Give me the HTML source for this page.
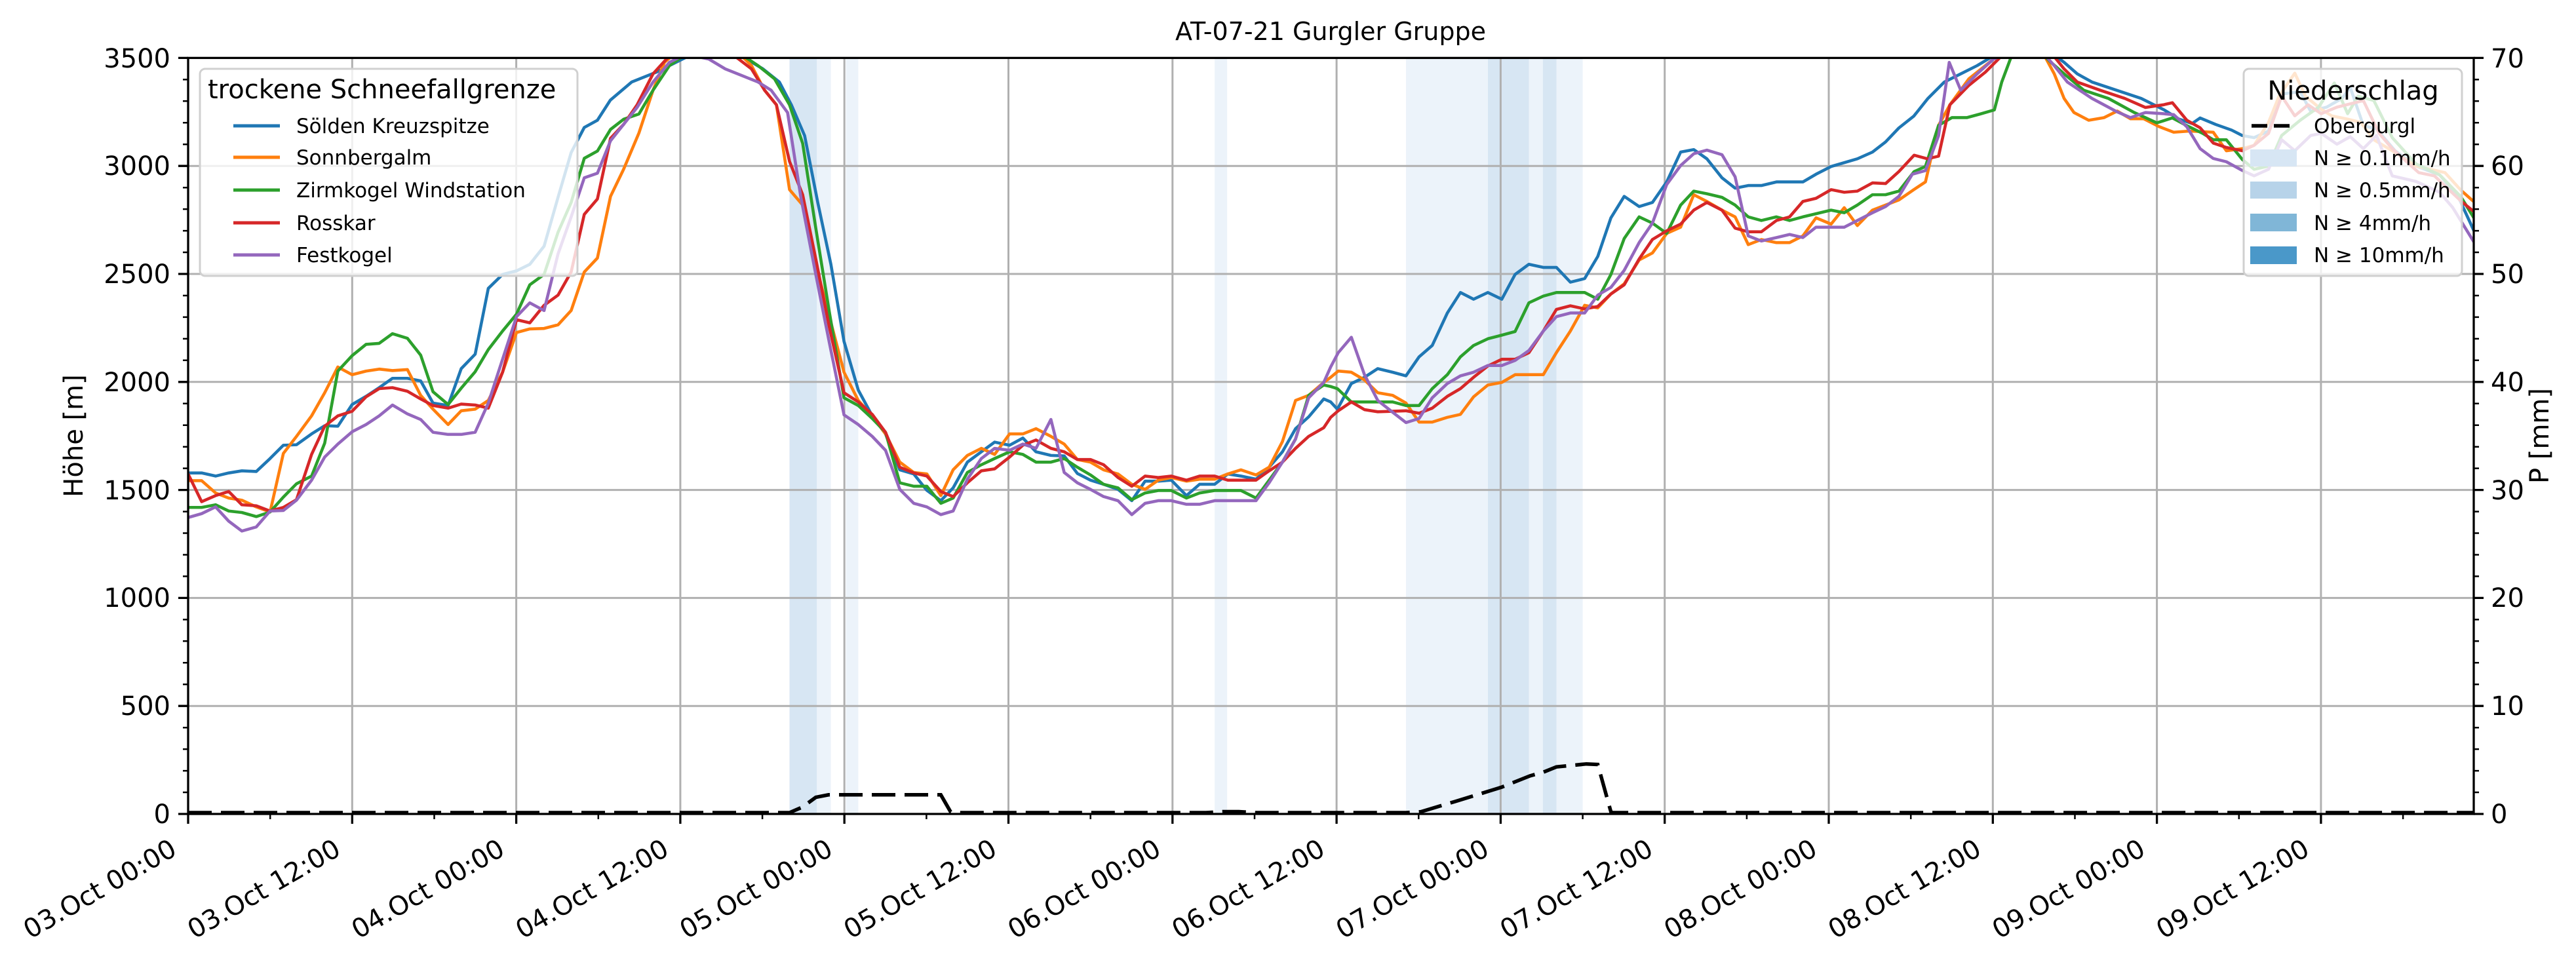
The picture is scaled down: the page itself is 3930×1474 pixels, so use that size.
<!DOCTYPE html>
<html><head><meta charset="utf-8"><style>
html,body{margin:0;padding:0;background:#fff;}
svg{display:block;font-family:"DejaVu Sans","Liberation Sans",sans-serif;}
</style></head><body>
<svg width="3930" height="1474" viewBox="0 0 3930 1474" xmlns="http://www.w3.org/2000/svg">
<defs><clipPath id="c"><rect x="287" y="88.4" width="3487" height="1153.6"/></clipPath></defs>
<rect width="3930" height="1474" fill="#fff"/>
<g>
<rect x="1204.5" y="88.4" width="41.8" height="1153.6" fill="#d7e6f3"/>
<rect x="1246.3" y="88.4" width="21.3" height="1153.6" fill="#ecf3fa"/>
<rect x="1290.6" y="88.4" width="18.8" height="1153.6" fill="#ecf3fa"/>
<rect x="1853.1" y="88.4" width="19" height="1153.6" fill="#ecf3fa"/>
<rect x="2145" y="88.4" width="125" height="1153.6" fill="#ecf3fa"/>
<rect x="2270" y="88.4" width="62.5" height="1153.6" fill="#d7e6f3"/>
<rect x="2332.5" y="88.4" width="21.3" height="1153.6" fill="#ecf3fa"/>
<rect x="2353.8" y="88.4" width="20.7" height="1153.6" fill="#d7e6f3"/>
<rect x="2374.5" y="88.4" width="40.1" height="1153.6" fill="#ecf3fa"/>
</g>
<g stroke="#b0b0b0" stroke-width="3">
<path d="M537.3,88V1242M787.6,88V1242M1037.9,88V1242M1288.2,88V1242M1538.5,88V1242M1788.8,88V1242M2039.1,88V1242M2289.4,88V1242M2539.7,88V1242M2790,88V1242M3040.3,88V1242M3290.6,88V1242M3540.9,88V1242"/>
<path d="M287,1077.2H3774M287,912.4H3774M287,747.6H3774M287,582.8H3774M287,418H3774M287,253.2H3774"/>
</g>
<g clip-path="url(#c)"><g transform="scale(2.5032)" fill="none" stroke-width="4.6" stroke-linejoin="round">
<polyline vector-effect="non-scaling-stroke" stroke="#1f77b4" points="114.2,288.3 122.9,288.3 131.4,290.2 139.4,288.3 147.4,287.0 156.2,287.4 164.6,279.5 172.7,271.4 180.7,271.1 189.9,264.5 197.9,259.5 205.9,259.8 214.6,246.6 223.1,241.6 231.1,236.3 239.2,230.6 248.3,230.6 256.4,232.2 263.9,245.7 273.1,247.2 281.1,224.7 289.6,215.9 297.6,175.8 306.3,167.3 314.8,165.1 322.9,161.1 331.6,150.1 340.1,120.3 348.1,93.0 356.1,77.7 364.1,73.3 372,61 385,50 400,44 412,38 420,34 445,32 455,36 465,42 475,50 482.3,63.9 490.4,82.7 498.4,123.4 506.4,161.1 514.4,208.1 523.1,237.8 531.6,253.5 539.7,264.5 548.4,286.4 556.9,288.9 564.9,298.9 573.4,305.2 580.9,297.4 589.6,281.7 598.1,275.4 606.2,269.5 615.3,271.4 623.4,267.0 631.4,275.4 640.5,277.6 648.6,277.9 656.6,288.6 664.6,292.7 672.6,295.2 681.4,298.3 689.8,305.2 697.9,293.3 705.9,293.3 713.9,292.7 723.1,302.1 731.1,295.2 740.3,295.2 748.3,288.9 756.3,290.2 765.5,292.1 773.5,284.8 781.6,275.4 789.6,261.3 797.6,254.1 806.8,243.2 811.0,245.0 815.1,249.4 823.6,233.8 831.6,230.0 839.7,224.7 848.8,226.9 856.9,229.1 864.9,217.5 872.9,210.6 882.1,190.8 890.1,178.3 898.1,182.4 906.8,178.3 915.3,182.4 923.4,167.3 931.8,161.1 940.6,163.0 948.6,163.0 957.1,172.0 965.8,169.8 973.8,156.3 981.8,132.8 989.9,119.7 999.0,125.9 1007.1,123.4 1015.8,110.9 1024.3,92.7 1032.3,91.2 1040.3,96.8 1049.5,108.4 1057.5,114.7 1065.5,113.1 1073.5,113.1 1082.7,110.9 1098.8,110.9 1106.8,106.2 1116.0,101.5 1132.0,96.8 1141.2,92.7 1149.2,86.5 1157.3,78.0 1166.4,70.8 1175,60 1185,50 1195,45 1205,40 1215,34 1250,32 1258,38 1266,45 1275,50 1290,55 1305,60 1319,67 1328,72.6 1336,75.3 1340.9,71.9 1350.5,75.9 1360.1,79.3 1366.6,82.6 1373.8,83.9 1382.6,79.9 1390.6,57.3 1401.9,55.9 1408.3,67.9 1418,65.3 1427.5,59.9 1432.4,53.3 1440.4,76.6 1448.4,78.6 1459.7,91.9 1472.5,101.2 1486.9,106.6 1498.2,119.9 1508,141.2"/>
<polyline vector-effect="non-scaling-stroke" stroke="#ff7f0e" points="114.2,293.0 122.9,293.0 131.4,300.5 139.4,303.6 147.4,304.9 156.2,309.0 164.6,312.1 172.7,276.4 180.7,266.0 189.9,253.5 197.9,239.4 205.9,223.7 214.6,228.4 223.1,226.2 231.1,225.0 239.2,225.9 248.3,225.3 256.4,241.0 263.9,249.4 273.1,258.8 281.1,250.4 289.6,249.4 297.6,244.1 306.3,226.9 314.8,202.7 322.9,200.5 331.6,200.2 340.1,198.0 348.1,189.3 356.1,165.8 364.1,157.3 372.1,119.7 380.1,103.1 389.4,81.1 398,55 405,38 412,32 450,32 458,40 466,55 473.2,63.9 481.2,115.6 489.2,125.0 497.2,161.1 505.3,192.4 514.4,226.9 523.1,244.1 531.6,253.5 539.7,264.5 548.4,281.7 556.9,288.0 564.9,288.9 573.4,302.1 580.9,286.4 589.6,277.6 598.1,273.3 606.2,277.0 615.3,264.5 623.4,264.5 631.4,261.3 640.5,266.0 648.6,270.7 656.6,280.1 664.6,281.7 672.6,286.4 681.4,288.9 689.8,295.2 697.9,298.3 705.9,292.7 713.9,291.1 723.1,293.3 731.1,292.1 740.3,292.1 748.3,288.9 756.3,286.4 765.5,289.5 773.5,284.8 781.6,269.2 789.6,244.1 797.6,241.0 806.8,233.1 811.0,230.0 815.6,226.2 823.6,226.9 831.6,231.6 839.7,239.4 848.8,241.0 856.9,245.7 864.9,257.3 872.9,257.3 882.1,254.4 890.1,252.6 898.1,241.9 906.8,234.7 915.3,233.1 923.4,228.4 931.8,228.4 940.6,228.4 948.6,214.9 957.1,201.8 965.8,186.1 973.8,187.7 981.8,179.2 989.9,173.0 999.0,158.5 1007.1,154.2 1015.8,142.3 1024.3,138.5 1032.3,118.7 1040.3,122.8 1049.5,128.1 1057.5,132.2 1065.5,149.1 1073.5,146.0 1082.7,147.9 1090.7,147.9 1098.8,143.8 1106.8,132.8 1116.0,136.6 1124.0,126.6 1132.0,137.5 1141.2,128.1 1149.2,125.0 1157.3,121.9 1166.4,115.6 1173.5,110.9 1181.5,76.4 1188.4,63.9 1200,48 1210,40 1220,32 1245,32 1252,45 1258,60 1264,68.6 1273,73.3 1282.4,71.7 1290.4,67.7 1298.5,72.4 1306.5,72.4 1315.7,77.1 1324.8,80.6 1334.5,79.9 1348.9,80.6 1356.9,91.9 1366.6,90.6 1373.8,88.6 1382.6,74.6 1389,58.6 1398.6,44.6 1405.1,58.6 1414.7,66.6 1421.1,70.6 1430.8,72.6 1438.8,74.6 1446.8,85.2 1458,91.9 1472.5,101.2 1490.1,105.2 1499.8,115.9 1508,123.2"/>
<polyline vector-effect="non-scaling-stroke" stroke="#2ca02c" points="114.2,309.3 122.9,309.3 131.4,307.7 139.4,311.5 147.4,312.4 156.2,314.9 164.6,312.1 172.7,303.0 180.7,294.9 189.9,290.2 197.9,270.1 205.9,226.2 214.6,216.8 223.1,209.9 231.1,209.3 239.2,203.4 248.3,206.2 256.4,216.5 263.9,238.8 273.1,246.6 281.1,236.6 289.6,226.6 297.6,213.1 306.3,201.8 314.8,191.5 322.9,173.6 331.6,167.3 340.1,141.6 348.1,123.4 356.1,96.5 364.1,92.1 372.1,78.9 380.1,72.7 389.4,69.5 398,55 408,40 418,33 450,32 462,40 472,48 481.2,63.9 489.2,87.4 497.2,139.1 505.3,189.3 514.4,242.5 523.1,247.2 531.6,255.1 539.7,263.5 548.4,294.3 556.9,296.4 564.9,296.4 573.4,306.8 580.9,303.6 589.6,288.0 598.1,283.3 606.2,279.5 615.3,275.4 623.4,277.0 631.4,281.7 640.5,281.7 648.6,279.5 656.6,284.8 664.6,289.5 672.6,295.2 681.4,297.4 689.8,304.6 697.9,300.5 705.9,299.0 713.9,299.0 723.1,303.6 731.1,300.5 740.3,299.0 748.3,299.0 756.3,299.0 765.5,303.6 773.5,292.7 781.6,281.7 789.6,267.6 797.6,241.0 806.8,234.7 811.0,235.6 815.1,236.9 823.6,245.0 831.6,245.0 839.7,245.0 848.8,245.0 856.9,247.2 864.9,247.2 872.9,236.9 882.1,228.4 890.1,217.5 898.1,210.6 906.8,206.5 915.3,204.3 923.4,202.1 931.8,184.6 940.6,180.5 948.6,178.3 957.1,178.3 965.8,178.3 973.8,182.4 981.8,167.3 989.9,145.4 999.0,132.2 1007.1,136.0 1015.8,142.3 1024.3,125.0 1032.3,116.5 1040.3,118.1 1049.5,120.3 1057.5,125.0 1065.5,132.2 1073.5,134.4 1082.7,132.2 1090.7,134.4 1098.8,132.2 1106.8,130.3 1116.0,128.1 1124.0,129.7 1132.0,125.0 1141.2,118.7 1149.2,118.7 1157.3,116.5 1166.6,104.6 1173.5,101.5 1181.5,76.4 1189.6,71.7 1198.7,71.7 1206.8,69.5 1215.5,67.0 1220,50 1226,34 1244,32 1250,38 1258,45 1270,55 1285,60 1300.8,68.6 1314.5,74.9 1324,71.9 1332.8,76.6 1342.5,81.3 1348.9,85.2 1356.9,85.2 1366.6,97.2 1373.8,103.2 1382.6,101.2 1390.6,82.6 1401.9,73.3 1413.1,65.3 1422.7,50.6 1430.8,69.3 1437.2,58.6 1446.8,61.3 1458,83.9 1472.5,99.9 1486.9,106.6 1499.8,119.9 1508,133.2"/>
<polyline vector-effect="non-scaling-stroke" stroke="#d62728" points="114.2,288.0 122.9,305.8 131.4,302.1 139.4,299.6 147.4,307.7 156.2,308.3 164.6,311.5 172.7,309.3 180.7,304.6 189.9,277.0 197.9,259.8 205.9,253.5 214.6,250.7 223.1,241.9 231.1,236.9 239.2,236.3 248.3,238.5 256.4,243.2 263.9,247.2 273.1,248.8 281.1,246.3 289.6,246.9 297.6,248.8 306.3,226.9 314.8,194.9 322.9,196.8 331.6,186.1 340.1,179.9 348.1,165.8 356.1,130.7 364.1,121.3 372.1,84.3 380.1,75.8 388.3,63.9 398,45 408,34 445,32 458,42 466,55 473.2,63.9 481.2,98.4 489.2,118.7 497.2,157.9 505.3,198.7 514.4,239.4 523.1,245.0 531.6,252.6 539.7,263.5 548.4,284.8 556.9,288.3 564.9,290.2 573.4,299.6 580.9,302.7 589.6,294.3 598.1,287.0 606.2,285.8 615.3,278.6 623.4,271.4 631.4,268.2 640.5,273.3 648.6,275.4 656.6,280.1 664.6,280.1 672.6,283.3 681.4,291.1 689.8,296.4 697.9,290.2 705.9,291.1 713.9,290.2 723.1,292.7 731.1,290.2 740.3,290.2 748.3,292.7 756.3,292.7 765.5,292.7 773.5,287.0 781.6,281.7 789.6,273.3 797.6,266.0 806.8,260.7 811.0,254.4 815.6,250.4 823.6,245.0 831.6,249.7 839.7,251.0 848.8,250.7 856.9,250.4 864.9,251.9 872.9,248.8 882.1,241.6 890.1,236.9 898.1,230.0 906.8,223.1 915.3,219.0 923.4,219.0 931.8,215.0 940.6,201.8 948.6,188.6 957.1,186.4 965.8,188.3 973.8,186.8 981.8,179.2 989.9,173.6 999.0,157.9 1007.1,146.0 1015.8,140.7 1024.3,136.6 1032.3,128.1 1040.3,123.4 1049.5,128.1 1057.5,139.1 1065.5,141.3 1073.5,141.3 1082.7,134.4 1090.7,132.2 1098.8,122.8 1106.8,120.9 1116.0,115.6 1124.0,117.2 1132.0,116.5 1141.2,111.5 1149.2,111.9 1157.3,104.6 1166.6,94.6 1174.7,96.8 1181.5,95.2 1188.4,63.9 1200,52 1210,44 1220,34 1250,32 1258,42 1266,50 1280,55 1295,60 1307.6,65.5 1318.4,63.9 1324,62.6 1332.8,73.3 1340.9,77.9 1348.9,87.2 1356.9,89.9 1366.6,91.9 1373.8,88.6 1382.6,81.3 1390.6,58.6 1398.6,70.6 1406.7,63.9 1414.7,69.3 1424.3,65.3 1440.4,61.3 1450,81.3 1458,90.6 1474.1,105.2 1483.7,107.2 1499.8,122.5 1508,129.2"/>
<polyline vector-effect="non-scaling-stroke" stroke="#9467bd" points="114.2,315.6 122.9,313.1 131.4,309.0 139.4,317.7 147.4,323.7 156.2,321.2 164.6,311.5 172.7,311.2 180.7,304.9 189.9,292.7 197.9,278.6 205.9,270.7 214.6,263.2 223.1,258.8 231.1,253.5 239.2,246.9 248.3,252.3 256.4,255.7 263.9,263.5 273.1,264.8 281.1,264.8 289.6,263.5 297.6,245.7 306.3,219.0 314.8,193.0 322.9,184.6 331.6,189.3 340.1,154.8 348.1,132.2 356.1,108.4 364.1,105.6 372.1,85.8 380.1,75.8 388.3,65.5 398,50 408,38 418,33 432,36 442,42 452,46 462,50 470,55 480.0,68.6 488.1,120.3 497.2,167.3 505.3,208.1 514.4,252.9 523.1,258.8 531.6,266.0 539.7,274.5 548.4,298.3 556.9,306.8 564.9,309.0 573.4,313.7 580.9,311.5 589.6,292.1 598.1,279.5 606.2,273.3 615.3,274.5 623.4,270.7 631.4,273.3 640.5,255.7 648.6,288.0 656.6,294.3 664.6,298.3 672.6,302.7 681.4,305.2 689.8,313.7 697.9,306.8 705.9,305.2 713.9,305.2 723.1,307.4 731.1,307.4 740.3,305.2 748.3,305.2 756.3,305.2 765.5,305.2 773.5,294.3 781.6,281.7 789.6,267.6 797.6,242.5 806.8,233.1 811.0,223.7 815.6,215.0 823.6,205.6 831.6,228.4 839.7,244.1 848.8,251.3 856.9,257.6 864.9,255.1 872.9,242.5 882.1,233.8 890.1,229.1 898.1,226.9 906.8,222.8 915.3,222.8 923.4,219.7 931.8,213.7 940.6,201.8 948.6,193.0 957.1,190.8 965.8,190.8 973.8,179.9 981.8,175.2 989.9,164.8 999.0,147.9 1007.1,136.0 1015.8,112.5 1024.3,100.9 1032.3,93.7 1040.3,91.5 1049.5,94.3 1057.5,107.8 1065.5,143.8 1073.5,146.9 1082.7,144.8 1090.7,142.9 1098.8,144.8 1106.8,138.5 1116.0,138.5 1124.0,138.5 1132.0,134.4 1141.2,129.7 1149.2,125.9 1157.3,119.7 1165.5,106.2 1173.5,104 1181.5,82.7 1188,38 1195,55 1205,45 1215,36 1225,32 1245,32 1252,40 1260,50 1275,60 1290,68 1298.5,71.7 1307.6,68.6 1318.4,69.3 1324.8,69.9 1332.8,77.3 1340.9,90.6 1348.9,96.6 1356.9,98.6 1366.6,103.9 1373.8,107.2 1382.6,103.2 1390.6,85.2 1398.6,91.9 1408.3,82.6 1414.7,81.3 1424.3,87.9 1432.4,83.3 1440.4,90.6 1448.4,82.6 1458,107.2 1472.5,110.6 1486.9,117.2 1494.9,126.6 1508,147.9"/>
</g></g>
<g>
<rect x="305" y="105" width="576" height="316" rx="8" fill="#fff" fill-opacity="0.8" stroke="#d0d0d0" stroke-width="3"/>
<text x="317" y="150" font-size="40">trockene Schneefallgrenze</text>
<g stroke-width="5">
<path d="M356,192H427" stroke="#1f77b4"/><path d="M356,240H427" stroke="#ff7f0e"/><path d="M356,290H427" stroke="#2ca02c"/><path d="M356,340H427" stroke="#d62728"/><path d="M356,389H427" stroke="#9467bd"/>
</g>
<g font-size="31">
<text x="452" y="203">Sölden Kreuzspitze</text><text x="452" y="251">Sonnbergalm</text><text x="452" y="301">Zirmkogel Windstation</text><text x="452" y="351">Rosskar</text><text x="452" y="400">Festkogel</text>
</g>
</g>
<g clip-path="url(#c)"><polyline fill="none" stroke="#000" stroke-width="5.5" stroke-dasharray="36,14" points="287,1240 1204.5,1240 1224,1231.6 1244.6,1216.6 1264,1212.8 1435.3,1212.8 1450.4,1239 1460,1240 1839.9,1240 1864.9,1238.5 1890,1238.5 1915,1240 2145,1240 2167.8,1238.6 2219.6,1223.1 2271.2,1207.3 2291.2,1201.0 2334.3,1183.8 2354.5,1178.3 2374.5,1170.2 2420.3,1165.7 2437.6,1166.5 2457.6,1238.6 2460.6,1240 3774,1240"/></g>
<g stroke="#000" stroke-width="3.3" fill="none">
<rect x="287" y="88.4" width="3487" height="1153.6"/>
<path d="M287,1242h-15M287,1077.2h-15M287,912.4h-15M287,747.6h-15M287,582.8h-15M287,418h-15M287,253.2h-15M287,88.4h-15"/>
<path d="M3774,1242h15M3774,1077.2h15M3774,912.4h15M3774,747.6h15M3774,582.8h15M3774,418h15M3774,253.2h15M3774,88.4h15"/>
<path d="M287,1242v15M537.3,1242v15M787.6,1242v15M1037.9,1242v15M1288.2,1242v15M1538.5,1242v15M1788.8,1242v15M2039.1,1242v15M2289.4,1242v15M2539.7,1242v15M2790,1242v15M3040.3,1242v15M3290.6,1242v15M3540.9,1242v15"/>
</g>
<g stroke="#000" stroke-width="2.5" fill="none">
<path d="M287,1209h-8M287,1176.1h-8M287,1143.1h-8M287,1110.2h-8M287,1044.2h-8M287,1011.3h-8M287,978.3h-8M287,945.4h-8M287,879.4h-8M287,846.5h-8M287,813.5h-8M287,780.6h-8M287,714.6h-8M287,681.7h-8M287,648.7h-8M287,615.8h-8M287,549.8h-8M287,516.9h-8M287,483.9h-8M287,451h-8M287,385h-8M287,352.1h-8M287,319.1h-8M287,286.2h-8M287,220.2h-8M287,187.3h-8M287,154.3h-8M287,121.4h-8"/>
<path d="M3774,1209h8M3774,1176.1h8M3774,1143.1h8M3774,1110.2h8M3774,1044.2h8M3774,1011.3h8M3774,978.3h8M3774,945.4h8M3774,879.4h8M3774,846.5h8M3774,813.5h8M3774,780.6h8M3774,714.6h8M3774,681.7h8M3774,648.7h8M3774,615.8h8M3774,549.8h8M3774,516.9h8M3774,483.9h8M3774,451h8M3774,385h8M3774,352.1h8M3774,319.1h8M3774,286.2h8M3774,220.2h8M3774,187.3h8M3774,154.3h8M3774,121.4h8"/>
<path d="M412.2,1242v8M662.5,1242v8M912.8,1242v8M1163.1,1242v8M1413.4,1242v8M1663.7,1242v8M1914,1242v8M2164.3,1242v8M2414.6,1242v8M2664.9,1242v8M2915.2,1242v8M3165.5,1242v8M3415.8,1242v8M3666.1,1242v8"/>
</g>
<g font-size="40" text-anchor="end">
<text x="260" y="1256">0</text><text x="260" y="1091">500</text><text x="260" y="926">1000</text><text x="260" y="762">1500</text><text x="260" y="597">2000</text><text x="260" y="432">2500</text><text x="260" y="267">3000</text><text x="260" y="103">3500</text>
</g>
<g font-size="40">
<text x="3800" y="1256">0</text><text x="3800" y="1091">10</text><text x="3800" y="926">20</text><text x="3800" y="762">30</text><text x="3800" y="597">40</text><text x="3800" y="432">50</text><text x="3800" y="267">60</text><text x="3800" y="103">70</text>
</g>
<g font-size="40" text-anchor="end">
<text transform="translate(272,1303) rotate(-30)">03.Oct 00:00</text>
<text transform="translate(522.3,1303) rotate(-30)">03.Oct 12:00</text>
<text transform="translate(772.6,1303) rotate(-30)">04.Oct 00:00</text>
<text transform="translate(1022.9,1303) rotate(-30)">04.Oct 12:00</text>
<text transform="translate(1273.2,1303) rotate(-30)">05.Oct 00:00</text>
<text transform="translate(1523.5,1303) rotate(-30)">05.Oct 12:00</text>
<text transform="translate(1773.8,1303) rotate(-30)">06.Oct 00:00</text>
<text transform="translate(2024.1,1303) rotate(-30)">06.Oct 12:00</text>
<text transform="translate(2274.4,1303) rotate(-30)">07.Oct 00:00</text>
<text transform="translate(2524.7,1303) rotate(-30)">07.Oct 12:00</text>
<text transform="translate(2775,1303) rotate(-30)">08.Oct 00:00</text>
<text transform="translate(3025.3,1303) rotate(-30)">08.Oct 12:00</text>
<text transform="translate(3275.6,1303) rotate(-30)">09.Oct 00:00</text>
<text transform="translate(3525.9,1303) rotate(-30)">09.Oct 12:00</text>
</g>
<text transform="translate(126,665) rotate(-90)" font-size="40" text-anchor="middle">Höhe [m]</text>
<text transform="translate(3888,665) rotate(-90)" font-size="40" text-anchor="middle">P [mm]</text>
<text x="2030" y="61" font-size="38" text-anchor="middle">AT-07-21 Gurgler Gruppe</text>
<g>
<rect x="3423" y="105" width="333" height="316" rx="8" fill="#fff" fill-opacity="0.8" stroke="#d0d0d0" stroke-width="3"/>
<text x="3590" y="152" font-size="40" text-anchor="middle">Niederschlag</text>
<path d="M3435,192H3503" stroke="#000" stroke-width="5.5" stroke-dasharray="24,10"/>
<rect x="3433" y="228" width="71" height="26" fill="#d7e6f4"/>
<rect x="3433" y="277" width="71" height="26" fill="#b7d3e9"/>
<rect x="3433" y="326" width="71" height="27" fill="#80b6d7"/>
<rect x="3433" y="376" width="71" height="27" fill="#4a98c9"/>
<g font-size="31">
<text x="3530" y="203">Obergurgl</text><text x="3530" y="252">N ≥ 0.1mm/h</text><text x="3530" y="301">N ≥ 0.5mm/h</text><text x="3530" y="351">N ≥ 4mm/h</text><text x="3530" y="400">N ≥ 10mm/h</text>
</g>
</g>
</svg>
</body></html>
